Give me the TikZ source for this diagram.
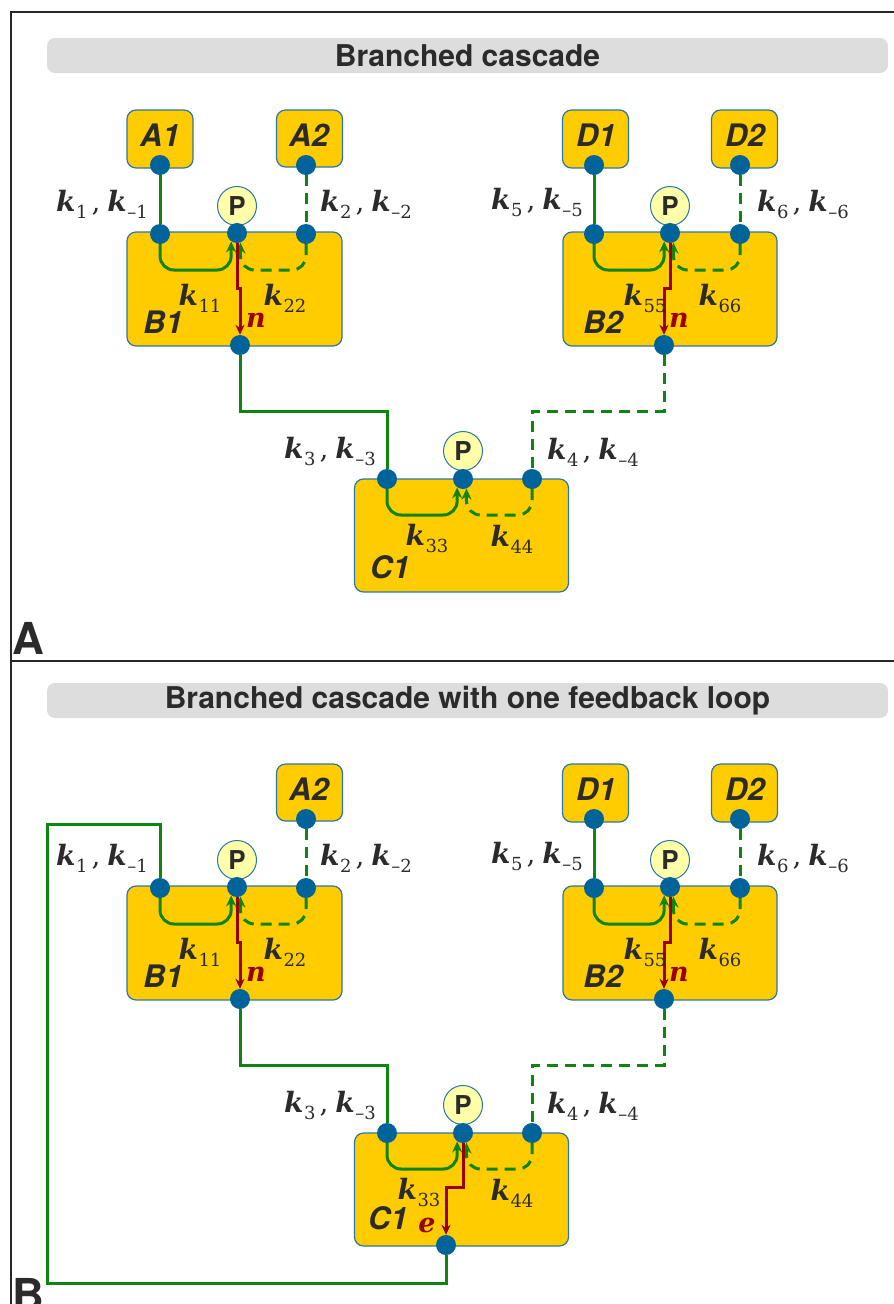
\documentclass[tikz,border=0pt]{standalone}
\usepackage{fontspec}
\setsansfont{TeX Gyre Heros}
\newfontfamily\kfont{DejaVu Serif}
\usetikzlibrary{arrows.meta}
\definecolor{gold}{HTML}{FFCC00}
\definecolor{boxb}{HTML}{2A76A8}
\definecolor{dotc}{HTML}{00649A}
\definecolor{grn}{HTML}{0E850E}
\definecolor{rd}{HTML}{990000}
\definecolor{txt}{HTML}{2B2B2B}
\definecolor{pfill}{HTML}{FFFFAA}
\definecolor{bar}{HTML}{DDDDDD}
\pgfdeclarelayer{boxes}\pgfdeclarelayer{lines}
\pgfsetlayers{boxes,lines,main}
\tikzset{
 box/.style={draw=boxb, fill=gold, line width=1.2pt, rounded corners=9pt, inner sep=0pt},
 dotn/.style={circle, fill=dotc, inner sep=0pt, minimum size=20pt},
 pcirc/.style={circle, draw=boxb, fill=pfill, line width=1pt, inner sep=0pt, minimum size=39pt, font=\sffamily\bfseries\fontsize{26}{30}\selectfont, text=txt},
 gl/.style={draw=grn, line width=3pt},
 dsh/.style={dash pattern=on 11pt off 7pt},
 rl/.style={draw=rd, line width=3pt},
 tip/.style={-{Stealth[length=11pt,width=10pt]}},
 rtip/.style={-{Stealth[length=10pt,width=9pt]}},
 boxlab/.style={font=\sffamily\bfseries\itshape\fontsize{31}{35}\selectfont, text=txt},
 klab/.style={font=\kfont\fontsize{28}{34}\selectfont, text=txt, inner sep=1pt},
 rlab/.style={font=\kfont\bfseries\itshape\fontsize{27}{34}\selectfont, text=rd, inner sep=1pt},
 titlebar/.style={fill=bar, rounded corners=8pt, minimum width=841pt, minimum height=35pt, inner sep=0pt, font=\sffamily\bfseries\fontsize{30}{34}\selectfont, text=txt},
 panellab/.style={font=\sffamily\bfseries\fontsize{44}{48}\selectfont, text=txt},
 frameln/.style={draw=black!85, line width=2pt}
}
\newcommand\ksub[1]{{\bfseries\itshape k}\raisebox{-7pt}{\fontsize{18}{20}\selectfont\kern0.5pt#1}}
\newcommand\kp[1]{\ksub{#1}\kern4pt,\kern7pt\ksub{–#1}}
\newcommand\drawpanel[2]{%
 \node[titlebar] (title) at (467.5,#2) {#1};
 \begin{pgfonlayer}{boxes}
  \node[box, minimum width=66pt, minimum height=57pt] (A2) at (309.5,138.5) {};
  \node[box, minimum width=215pt, minimum height=114pt] (B1) at (234.5,289) {};
  \node[box, minimum width=66pt, minimum height=58pt] (D1) at (595.5,139) {};
  \node[box, minimum width=66pt, minimum height=58pt] (D2) at (744.5,139) {};
  \node[box, minimum width=214pt, minimum height=114pt] (B2) at (670,289) {};
  \node[box, minimum width=214pt, minimum height=113pt] (C1) at (461.5,535.5) {};
 \end{pgfonlayer}
 \node[boxlab] (A2t) at (309,135) {A2};
 \node[boxlab] (D1t) at (596,135) {D1};
 \node[boxlab] (D2t) at (745,135) {D2};
 \node[boxlab] (B1t) at (163,322) {B1};
 \node[boxlab] (B2t) at (603,322) {B2};
 \node[pcirc] (B1P) at (237,206) {P};
 \node[pcirc] (B2P) at (670,206) {P};
 \node[pcirc] (C1P) at (463,451) {P};
 \node[dotn] (A2d) at (306,165) {};
 \node[dotn] (B1l) at (160,234) {};
 \node[dotn] (B1p) at (237,233) {};
 \node[dotn] (B1r) at (306,234) {};
 \node[dotn] (B1b) at (240,345) {};
 \node[dotn] (D1d) at (594,165) {};
 \node[dotn] (D2d) at (740,165) {};
 \node[dotn] (B2l) at (594,234) {};
 \node[dotn] (B2p) at (670,233) {};
 \node[dotn] (B2r) at (740,234) {};
 \node[dotn] (B2b) at (664,345) {};
 \node[dotn] (C1l) at (387,479) {};
 \node[dotn] (C1p) at (463,479) {};
 \node[dotn] (C1r) at (532,479) {};
 \node[klab] (k1) at (102,204) {\kp{1}};
 \node[klab] (k2) at (366,204) {\kp{2}};
 \node[klab] (k5) at (537,202) {\kp{5}};
 \node[klab] (k6) at (803,204) {\kp{6}};
 \node[klab] (k3) at (330,451) {\kp{3}};
 \node[klab] (k4) at (593,452) {\kp{4}};
 \node[klab] (k11) at (200,298) {\ksub{11}};
 \node[klab] (k22) at (285,298) {\ksub{22}};
 \node[klab] (k55) at (645,298) {\ksub{55}};
 \node[klab] (k66) at (720,298) {\ksub{66}};
 \node[klab] (k44) at (512,539) {\ksub{44}};
 \node[rlab] (n1) at (256,320) {n};
 \node[rlab] (n2) at (679,320) {n};
 \begin{pgfonlayer}{lines}
  \draw[gl,dsh] (A2d) -- (B1r);
  \draw[gl] (D1d) -- (B2l);
  \draw[gl,dsh] (D2d) -- (B2r);
  \draw[gl,tip,rounded corners=14pt] (B1l) -- ++(0,36) -| (B1p.-125);
  \draw[gl,dsh,tip,rounded corners=14pt] (B1r) -- ++(0,36) -| (B1p.-70);
  \draw[gl,tip,rounded corners=14pt] (B2l) -- ++(0,36) -| (B2p.-125);
  \draw[gl,dsh,tip,rounded corners=14pt] (B2r) -- ++(0,36) -| (B2p.-70);
  \draw[gl,tip,rounded corners=14pt] (C1l) -- ++(0,36) -| (C1p.-125);
  \draw[gl,dsh,tip,rounded corners=14pt] (C1r) -- ++(0,36) -| (C1p.-70);
  \draw[rl,rtip] (B1p) -- ++(0,55) -| (B1b);
  \draw[rl,rtip] (B2p) -- ++(0,55) -| (B2b);
  \draw[gl] (B1b) -- ++(0,66) -| (C1l);
  \draw[gl,dsh] (B2b) -- ++(0,66) -| (C1r);
 \end{pgfonlayer}
}
\begin{document}
\begin{tikzpicture}[x=1pt,y=-1pt]
\useasboundingbox (0,0) rectangle (894,1304);
\draw[frameln] (11,1310) -- (11,12) -- (900,12);
\draw[frameln] (11,661) -- (900,661);
\begin{scope}[name prefix=pa-]
 \drawpanel{Branched cascade}{55.5}
 \begin{pgfonlayer}{boxes}
  \node[box, minimum width=66pt, minimum height=58pt] (A1) at (160,139) {};
 \end{pgfonlayer}
 \node[boxlab] (A1t) at (160,135) {A1};
 \node[dotn] (A1d) at (160,165) {};
 \begin{pgfonlayer}{lines}
  \draw[gl] (A1d) -- (B1l);
 \end{pgfonlayer}
 \node[klab] (k33) at (427,538) {\ksub{33}};
 \node[boxlab] (C1t) at (390,567) {C1};
\end{scope}
\node[panellab] (labA) at (28,638) {A};
\begin{scope}[shift={(0,654)}, name prefix=pb-]
 \drawpanel{Branched cascade with one feedback loop}{46.5}
 \node[dotn] (C1b) at (446,591) {};
 \coordinate (fa) at (47,170);
 \coordinate (fb) at (47,629);
 \begin{pgfonlayer}{lines}
  \draw[rl,rtip] (C1p) -- ++(0,54) -| (C1b);
  \draw[gl] (B1l) |- (fa) -- (fb) -| (C1b);
 \end{pgfonlayer}
 \node[rlab] (e1) at (427,571) {e};
 \node[klab] (k33) at (419,538) {\ksub{33}};
 \node[boxlab] (C1t) at (388,564) {C1};
\end{scope}
\node[panellab] (labB) at (28,1294) {B};
\end{tikzpicture}
\end{document}
